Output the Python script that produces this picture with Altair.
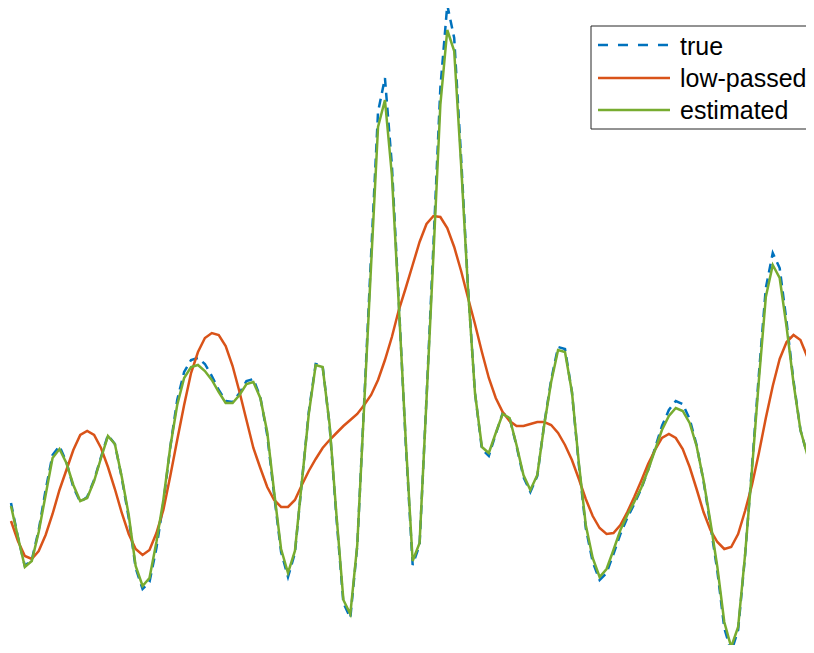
import altair as alt
import pandas as pd

# sample index
n = list(range(117))

# signal values (arbitrary amplitude units)
true_sig = [
    -83, -117, -146, -140, -110, -70, -35, -26, -42, -67,
    -82, -77, -60, -37, -15, -24, -58, -98, -148, -169,
    -162, -128, -83, -27, 20, 48, 60, 62, 56, 44,
    30, 19, 18, 27, 39, 41, 23, -15, -75, -132,
    -157, -133, -62, 8, 56, 54, -5, -98, -183, -198,
    -126, 18, 165, 308, 342, 255, 118, -23, -145, -125,
    22, 175, 332, 415, 382, 262, 132, 27, -29, -36,
    -14, 7, 2, -26, -57, -72, -56, -4, 40, 73,
    71, 28, -45, -108, -142, -160, -153, -134, -114, -98,
    -84, -69, -50, -28, -6, 10, 19, 16, 1, -25,
    -61, -105, -151, -208, -232, -210, -136, -47, 46, 132,
    167, 152, 98, 39, -10, -35, -36,
]

low_passed = [
    -101, -121, -136, -139, -131, -115, -94, -70, -50, -30,
    -15, -11, -15, -28, -47, -69, -93, -114, -129, -135,
    -130, -113, -90, -56, -20, 15, 47, 68, 82, 87,
    85, 74, 54, 28, 0, -28, -48, -67, -80, -87,
    -87, -80, -65, -51, -39, -28, -20, -13, -6, 0,
    6, 15, 25, 40, 60, 83, 110, 132, 155, 178,
    196, 204, 203, 192, 173, 149, 122, 96, 68, 42,
    22, 8, -1, -6, -6, -4, -2, -2, -5, -13,
    -25, -40, -59, -79, -96, -108, -114, -113, -105, -92,
    -77, -61, -44, -30, -18, -14, -18, -29, -47, -69,
    -92, -110, -122, -129, -127, -114, -91, -65, -33, 2,
    34, 61, 78, 85, 80, 63, 34,
]

estimated = [
    -86, -117, -147, -141, -112, -75, -38, -29, -43, -65,
    -81, -78, -61, -38, -16, -24, -57, -95, -146, -166,
    -158, -122, -80, -27, 15, 42, 53, 55, 49, 40,
    28, 17, 17, 25, 36, 38, 22, -12, -72, -129,
    -153, -131, -62, 6, 55, 53, -4, -95, -180, -194,
    -125, 15, 155, 293, 320, 245, 115, -20, -141, -123,
    20, 165, 315, 390, 369, 255, 130, 27, -27, -33,
    -13, 6, 2, -25, -55, -70, -55, -5, 38, 70,
    68, 28, -43, -105, -138, -157, -149, -130, -110, -95,
    -82, -68, -50, -30, -10, 4, 12, 9, -3, -26,
    -60, -102, -147, -202, -227, -207, -135, -50, 40, 123,
    155, 142, 93, 37, -10, -35, -35,
]

labels = ["true", "low-passed", "estimated"]
fields = ["true_sig", "low_passed", "estimated"]
colors = ["#0072BD", "#D95319", "#77AC30"]

df = pd.DataFrame({"n": n, "true_sig": true_sig,
                   "low_passed": low_passed, "estimated": estimated})

W, H = 798, 637
step = 6.925
xs = alt.Scale(domain=[-3 / step, (W - 3) / step], nice=False, zero=False)
ys = alt.Scale(domain=[-225, 412], nice=False, zero=False)

layers = []
for f, c in zip(fields, colors):
    kw = dict(color=c, strokeWidth=2.5, clip=False)
    if f == "true_sig":
        kw["strokeDash"] = [9, 6]
    layers.append(
        alt.Chart(df).mark_line(**kw).encode(
            x=alt.X("n:Q", scale=xs, axis=None),
            y=alt.Y(f"{f}:Q", scale=ys, axis=None),
        )
    )

# legend (drawn manually, box clipped at right edge like the original)
one = pd.DataFrame({"a": [0]})
layers.append(
    alt.Chart(one).mark_rect(fill="white", stroke="#262626", strokeWidth=1).encode(
        x=alt.value(583), x2=alt.value(830), y=alt.value(18), y2=alt.value(121)
    )
)
line_y = [37, 70, 102]
text_y = [47, 79, 111]
for lab, c, ly, ty in zip(labels, colors, line_y, text_y):
    kw = dict(color=c, strokeWidth=2.5)
    if lab == "true":
        kw["strokeDash"] = [10, 10]
    layers.append(
        alt.Chart(one).mark_rule(**kw).encode(
            x=alt.value(590), x2=alt.value(662), y=alt.value(ly)
        )
    )
    layers.append(
        alt.Chart(pd.DataFrame({"label": [lab]})).mark_text(
            align="left", baseline="alphabetic", font="Liberation Sans",
            fontSize=25, color="black"
        ).encode(x=alt.value(672), y=alt.value(ty), text="label:N")
    )

chart = alt.layer(*layers).properties(
    width=W, height=H, autosize=alt.AutoSizeParams(type="none"), padding=0,
    background="white",
).configure_view(stroke=None)

chart.save("out.html", embed_options={"renderer": "svg", "actions": False})
